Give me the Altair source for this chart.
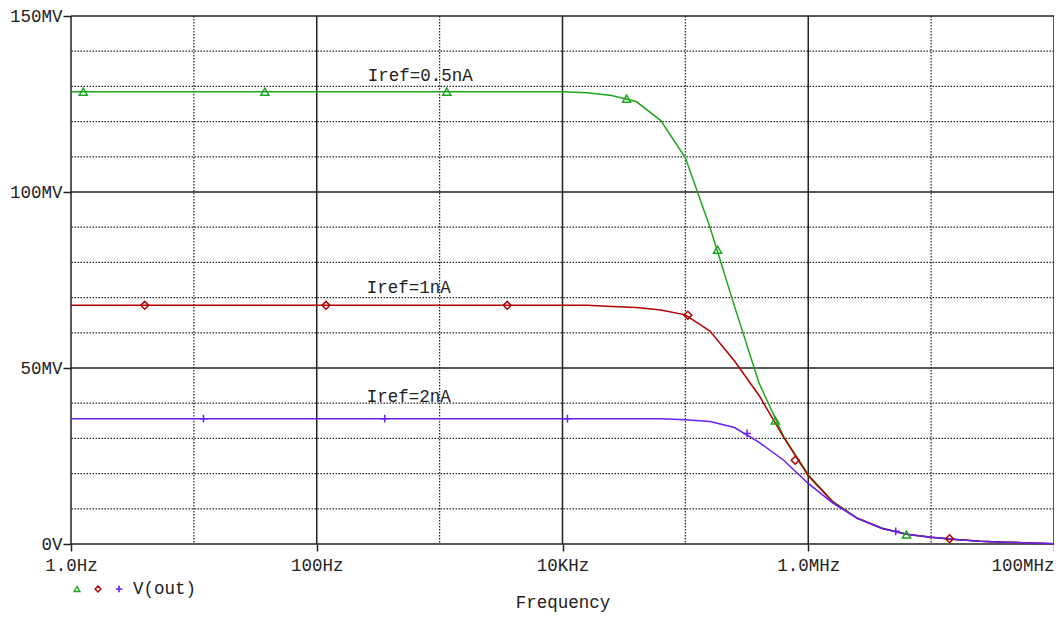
import altair as alt
import pandas as pd

# ---- data ----
freq_hz = [1.0, 6.31e3, 1.0e4, 1.585e4, 2.512e4, 3.981e4, 6.31e4, 1.0e5, 1.585e5,
           2.512e5, 3.981e5, 6.31e5, 1.0e6, 1.585e6, 2.512e6, 3.981e6, 6.31e6,
           1.0e7, 1.585e7, 2.512e7, 3.981e7, 6.31e7, 1.0e8]
green_vals = [128.5, 128.5, 128.5, 128.2, 127.4, 125.7, 120.3, 109.7, 90.0, 67.5, 45.7,
              30.5, 19.7, 12.1, 7.3, 4.5, 2.8, 1.9, 1.3, 0.8, 0.5, 0.3, 0.1]
red_vals = [67.8, 67.8, 67.8, 67.8, 67.5, 67.2, 66.5, 65.1, 60.5, 52.0, 42.2,
            30.3, 19.4, 11.9, 7.3, 4.5, 2.8, 1.9, 1.3, 0.8, 0.5, 0.3, 0.1]
blue_vals = [35.6, 35.6, 35.6, 35.6, 35.6, 35.6, 35.6, 35.3, 34.8, 33.1, 28.9,
             23.8, 17.2, 11.6, 7.3, 4.4, 2.8, 1.9, 1.3, 0.8, 0.5, 0.3, 0.1]

series_names = ["Iref=0.5nA", "Iref=1nA", "Iref=2nA"]
series_colors = ["#1ea51e", "#b00000", "#6a1ff5"]
series_shapes = ["triangle-up", "diamond", "M-1,0H1M0,-1V1"]
series_sizes = [65, 60, 85]

green_mk_f = [1.259, 37.84, 1143, 33270, 182800, 539500, 6295000]
green_mk_v = [128.5, 128.5, 128.5, 126.5, 83.6, 35.1, 2.7]
red_mk_f = [3.98, 118.9, 3548, 104700, 783400, 14130000]
red_mk_v = [67.8, 67.8, 67.8, 65.0, 23.8, 1.5]
blue_mk_f = [11.97, 357.3, 10965, 317700, 5152000]
blue_mk_v = [35.6, 35.6, 35.6, 31.4, 3.6]

label_text = ["Iref=0.5nA", "Iref=1nA", "Iref=2nA"]
label_freq = [260, 255, 255]
label_val = [131.6, 71.2, 40.3]

x_major = [1, 100, 10000, 1000000, 100000000]
x_major_labels = ["1.0Hz", "100Hz", "10KHz", "1.0MHz", "100MHz"]
x_minor = [10, 1000, 100000, 10000000]
y_major = [0, 50, 100, 150]
y_major_labels = ["0V", "50MV", "100MV", "150MV"]
y_minor = [10, 20, 30, 40, 60, 70, 80, 90, 110, 120, 130, 140]

FONT = "Liberation Mono"
FS = 17.5
INK = "#222222"

# ---- tables ----
curves = pd.DataFrame({
    "freq": freq_hz * 3,
    "val": green_vals + red_vals + blue_vals,
    "series": [series_names[0]] * len(freq_hz) + [series_names[1]] * len(freq_hz)
              + [series_names[2]] * len(freq_hz),
})
markers = pd.DataFrame({
    "freq": green_mk_f + red_mk_f + blue_mk_f,
    "val": green_mk_v + red_mk_v + blue_mk_v,
    "series": [series_names[0]] * len(green_mk_f) + [series_names[1]] * len(red_mk_f)
              + [series_names[2]] * len(blue_mk_f),
})
labels = pd.DataFrame({"freq": label_freq, "val": label_val, "text": label_text})

xs = alt.Scale(type="log", domain=[1, 1e8], nice=False)
ys = alt.Scale(domain=[0, 150], nice=False, zero=False)

x_expr = " : ".join(f"datum.value == {v} ? '{l}'" for v, l in zip(x_major, x_major_labels)) + " : ''"
y_expr = " : ".join(f"datum.value == {v} ? '{l}'" for v, l in zip(y_major, y_major_labels)) + " : ''"

x_axis = alt.Axis(values=x_major, labelExpr=x_expr, grid=False, domain=False,
                  tickSize=7, tickWidth=1.5, tickColor=INK, labelPadding=5,
                  labelFont=FONT, labelFontSize=FS, labelColor=INK, labelFlush=False,
                  labelOverlap=False, labelBound=False,
                  labelAlign={"condition": {"test": "datum.value >= 100000000", "value": "right"},
                              "value": "center"},
                  title="Frequency", titleFont=FONT, titleFontSize=FS, titleFontWeight="normal",
                  titleColor=INK, titlePadding=20)
y_axis = alt.Axis(values=y_major, labelExpr=y_expr, grid=False, domain=False,
                  tickSize=8, tickWidth=1.5, tickColor=INK, labelPadding=1,
                  labelFont=FONT, labelFontSize=FS, labelColor=INK, labelOverlap=False,
                  title="")

X = alt.X("freq:Q", scale=xs, axis=x_axis)
Y = alt.Y("val:Q", scale=ys, axis=y_axis)

vminor = alt.Chart(pd.DataFrame({"freq": x_minor})).mark_rule(
    color=INK, strokeWidth=1.2, strokeDash=[1.5, 1.5]).encode(x=X)
hminor = alt.Chart(pd.DataFrame({"val": y_minor})).mark_rule(
    color=INK, strokeWidth=1.2, strokeDash=[1.5, 1.5]).encode(y=Y)
vmajor = alt.Chart(pd.DataFrame({"freq": x_major})).mark_rule(
    color=INK, strokeWidth=1.5).encode(x=X)
hmajor = alt.Chart(pd.DataFrame({"val": y_major})).mark_rule(
    color=INK, strokeWidth=1.5).encode(y=Y)

color_enc = alt.Color("series:N", scale=alt.Scale(domain=series_names, range=series_colors),
                      legend=None)

lines = alt.Chart(curves).mark_line(strokeWidth=1.5).encode(
    x=X, y=Y, color=color_enc, detail="series:N")

points = alt.Chart(markers).mark_point(filled=False, strokeWidth=1.5, opacity=1).encode(
    x=X, y=Y, color=color_enc,
    shape=alt.Shape("series:N", scale=alt.Scale(domain=series_names, range=series_shapes),
                    legend=None),
    size=alt.Size("series:N", scale=alt.Scale(domain=series_names, range=series_sizes),
                  legend=None))

texts = alt.Chart(labels).mark_text(align="left", baseline="alphabetic", font=FONT,
                                    fontSize=FS, color=INK).encode(x=X, y=Y, text="text:N")

one = pd.DataFrame({"k": [0]})
leg_tri = alt.Chart(one).mark_point(shape=series_shapes[0], filled=False, size=34,
                                    strokeWidth=1.4, color=series_colors[0], opacity=1).encode(
    x=alt.value(6), y=alt.value(573))
leg_dia = alt.Chart(one).mark_point(shape=series_shapes[1], filled=False, size=34,
                                    strokeWidth=1.4, color=series_colors[1], opacity=1).encode(
    x=alt.value(27), y=alt.value(573))
leg_plus = alt.Chart(one).mark_point(shape=series_shapes[2], filled=False, size=45,
                                     strokeWidth=1.7, color=series_colors[2], opacity=1).encode(
    x=alt.value(48), y=alt.value(573))
leg_txt = alt.Chart(one).mark_text(text="V(out)", align="left", baseline="middle", font=FONT,
                                   fontSize=FS, color=INK).encode(
    x=alt.value(62), y=alt.value(573))

chart = alt.layer(vminor, hminor, vmajor, hmajor, lines, points, texts,
                  leg_tri, leg_dia, leg_plus, leg_txt).properties(
    width=983, height=528,
    autosize=alt.AutoSizeParams(type="none"),
    padding={"left": 63, "top": 8, "right": 0, "bottom": 70},
    background="white",
).configure_view(stroke=None)

chart.save("out.html", embed_options={"renderer": "svg", "actions": False})
